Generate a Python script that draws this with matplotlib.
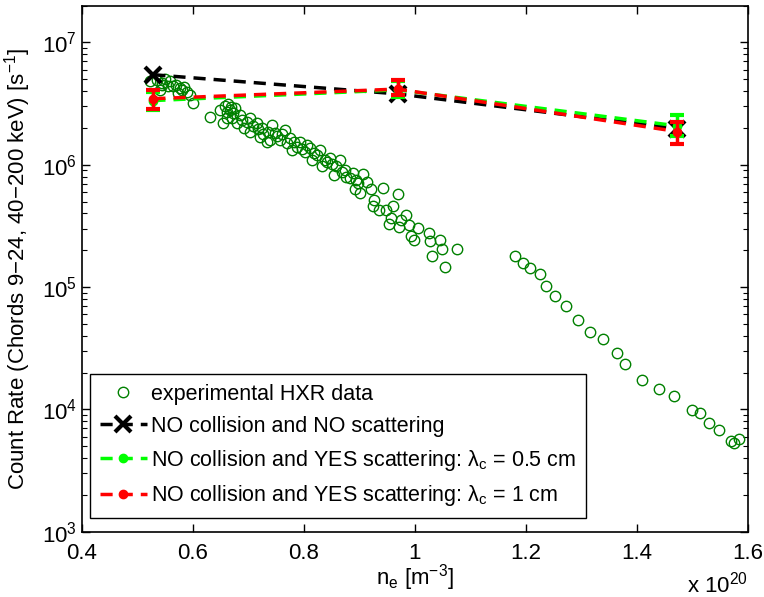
import matplotlib
matplotlib.use('Agg')
import matplotlib.pyplot as plt
from matplotlib.ticker import LogLocator, NullFormatter, FixedLocator

plt.rcParams['font.family'] = ['Liberation Sans', 'DejaVu Sans']
plt.rcParams['mathtext.fontset'] = 'custom'
plt.rcParams['mathtext.rm'] = 'Liberation Sans'
plt.rcParams['mathtext.it'] = 'Liberation Sans'

# experimental HXR data, ne in 1e20 m^-3
ne_exp = [0.523, 0.535, 0.544, 0.550, 0.559, 0.565, 0.577, 0.574, 0.589, 0.595,
          0.601, 0.541, 0.556, 0.545, 0.570, 0.580, 0.585, 0.631, 0.649, 0.667,
          0.673, 0.661, 0.655, 0.679, 0.703, 0.709, 0.703, 0.721, 0.733, 0.658,
          0.669, 0.664, 0.676, 0.662, 0.685, 0.671, 0.692, 0.689, 0.715, 0.725,
          0.736, 0.743, 0.748, 0.757, 0.739, 0.766, 0.775, 0.787, 0.779, 0.793,
          0.802, 0.811, 0.823, 0.815, 0.829, 0.838, 0.847, 0.833, 0.859, 0.865,
          0.855, 0.874, 0.883, 0.877, 0.889, 0.895, 0.907, 0.914, 0.897, 0.892,
          0.901, 0.921, 0.927, 0.925, 0.936, 0.942, 0.948, 0.961, 0.957, 0.954,
          0.970, 0.972, 0.975, 0.984, 0.993, 0.990, 0.999, 1.005, 1.026, 1.028,
          1.046, 1.049, 1.032, 1.055, 1.076,
          0.752, 0.770, 0.797, 0.806, 0.818, 0.842, 0.851, 0.869, 0.760, 0.782,
          0.727, 0.697, 0.718,
          1.181, 1.195, 1.208, 1.225, 1.236, 1.252, 1.272, 1.294, 1.316, 1.339,
          1.365, 1.379, 1.410, 1.441, 1.467, 1.500, 1.514, 1.531, 1.548, 1.570,
          1.575, 1.584]
hxr_exp = [4.80e6, 4.95e6, 4.51e6, 5.05e6, 4.80e6, 4.37e6, 4.24e6, 3.86e6, 3.97e6, 3.73e6,
           3.19e6, 4.10e6, 4.43e6, 4.70e6, 4.50e6, 4.10e6, 4.30e6, 2.48e6, 2.82e6, 2.82e6,
           2.65e6, 2.41e6, 2.19e6, 2.19e6, 2.41e6, 2.06e6, 1.87e6, 1.70e6, 1.55e6, 3.03e6,
           2.98e6, 3.15e6, 2.93e6, 2.71e6, 2.56e6, 2.42e6, 2.00e6, 2.33e6, 2.19e6, 2.01e6,
           1.86e6, 2.12e6, 1.83e6, 1.60e6, 1.60e6, 1.93e6, 1.66e6, 1.41e6, 1.33e6, 1.54e6,
           1.28e6, 1.38e6, 1.21e6, 1.10e6, 1.33e6, 1.10e6, 1.14e6, 9.8e5, 9.7e5, 1.10e6,
           8.3e5, 9.1e5, 7.8e5, 8.0e5, 8.6e5, 7.5e5, 8.4e5, 7.3e5, 7.1e5, 6.3e5,
           5.9e5, 6.3e5, 5.2e5, 4.6e5, 4.3e5, 6.4e5, 4.3e5, 4.6e5, 3.7e5, 3.3e5,
           5.8e5, 3.1e5, 3.55e5, 3.85e5, 2.6e5, 3.2e5, 2.44e5, 3.05e5, 2.76e5, 2.39e5,
           2.44e5, 2.05e5, 1.81e5, 1.45e5, 2.05e5,
           1.72e6, 1.50e6, 1.35e6, 1.45e6, 1.25e6, 1.05e6, 1.02e6, 8.8e5, 1.78e6, 1.55e6,
           1.80e6, 2.25e6, 1.95e6,
           1.80e5, 1.56e5, 1.42e5, 1.28e5, 1.03e5, 8.4e4, 7.0e4, 5.4e4, 4.3e4, 3.73e4,
           2.89e4, 2.37e4, 1.75e4, 1.47e4, 1.28e4, 9.9e3, 9.4e3, 7.7e3, 6.8e3, 5.5e3,
           5.36e3, 5.74e3]

# simulations
ne_sim = [0.529, 0.969, 1.473]
no_scatter = [5.45e6, 3.8e6, 1.98e6]
scat_05 = [3.35e6, 4.1e6, 2.08e6]
scat_05_lo = [2.8e6, 3.6e6, 1.72e6]
scat_05_hi = [3.95e6, 4.8e6, 2.53e6]
scat_1 = [3.47e6, 4.16e6, 1.87e6]
scat_1_lo = [2.87e6, 3.73e6, 1.49e6]
scat_1_hi = [4.06e6, 4.89e6, 2.25e6]

fig = plt.figure(figsize=(7.64, 5.97), dpi=100)
ax = fig.add_axes([0.107, 0.1094, 0.8717, 0.8811])

h_exp, = ax.plot(ne_exp, hxr_exp, 'o', mfc='none', mec='#008000', ms=7.5, mew=1.0,
                 label='experimental HXR data')
h_no, = ax.plot(ne_sim, no_scatter, color='k', ls='--', dashes=(3.5, 2.3), lw=2.5,
                marker='x', ms=12, mew=3, label='NO collision and NO scattering')

def sim_series(y, lo, hi, color, label):
    yerr = [[a - b for a, b in zip(y, lo)], [b - a for a, b in zip(y, hi)]]
    ax.errorbar(ne_sim, y, yerr=yerr, fmt='none', ecolor=color, elinewidth=2.5,
                capsize=5, capthick=3)
    h, = ax.plot(ne_sim, y, color=color, ls='--', dashes=(3.5, 2.3), lw=2.5,
                 marker='o', ms=6, label=label)
    return h

h_05 = sim_series(scat_05, scat_05_lo, scat_05_hi, '#00ff00',
                  r'NO collision and YES scattering: $\lambda_c$ = 0.5 cm')
h_1 = sim_series(scat_1, scat_1_lo, scat_1_hi, '#ff0000',
                 r'NO collision and YES scattering: $\lambda_c$ = 1 cm')

ax.set_yscale('log')
ax.set_xlim(0.4, 1.6)
ax.set_ylim(1e3, 2e7)
ax.xaxis.set_major_locator(FixedLocator([0.4, 0.6, 0.8, 1.0, 1.2, 1.4, 1.6]))
ax.set_xticklabels(['0.4', '0.6', '0.8', '1', '1.2', '1.4', '1.6'])
ax.yaxis.set_major_locator(LogLocator(base=10, numticks=10))
ax.yaxis.set_minor_locator(LogLocator(base=10, subs=range(2, 10), numticks=20))
ax.yaxis.set_minor_formatter(NullFormatter())
ax.tick_params(which='both', direction='in', top=True, right=True, labelsize=16)
ax.tick_params(which='major', length=6, width=1)
ax.tick_params(which='minor', length=3.5, width=0.8)
ax.tick_params(axis='x', pad=8)
for s in ax.spines.values():
    s.set_linewidth(1.2)

ax.set_ylabel(r'Count Rate (Chords 9−24, 40−200 keV) [s$^{-1}$]', fontsize=16)
ax.yaxis.set_label_coords(-0.073, 0.5)
ax.set_xlabel(r'n$_e$ [m$^{-3}$]', fontsize=16)
ax.xaxis.set_label_coords(0.5, -0.058)
ax.text(1.0, -0.115, r'x 10$^{20}$', transform=ax.transAxes, ha='right',
        va='baseline', fontsize=16)

leg = ax.legend(handles=[h_exp, h_no, h_05, h_1], loc='lower left',
                bbox_to_anchor=(0.0125, 0.026), fontsize=15.5, fancybox=False,
                framealpha=1, edgecolor='k', borderpad=0.45, labelspacing=0.5,
                handlelength=2.2, handletextpad=0.2, borderaxespad=0, numpoints=1)
leg.get_frame().set_linewidth(1.0)

fig.savefig('out.png', dpi=100)
